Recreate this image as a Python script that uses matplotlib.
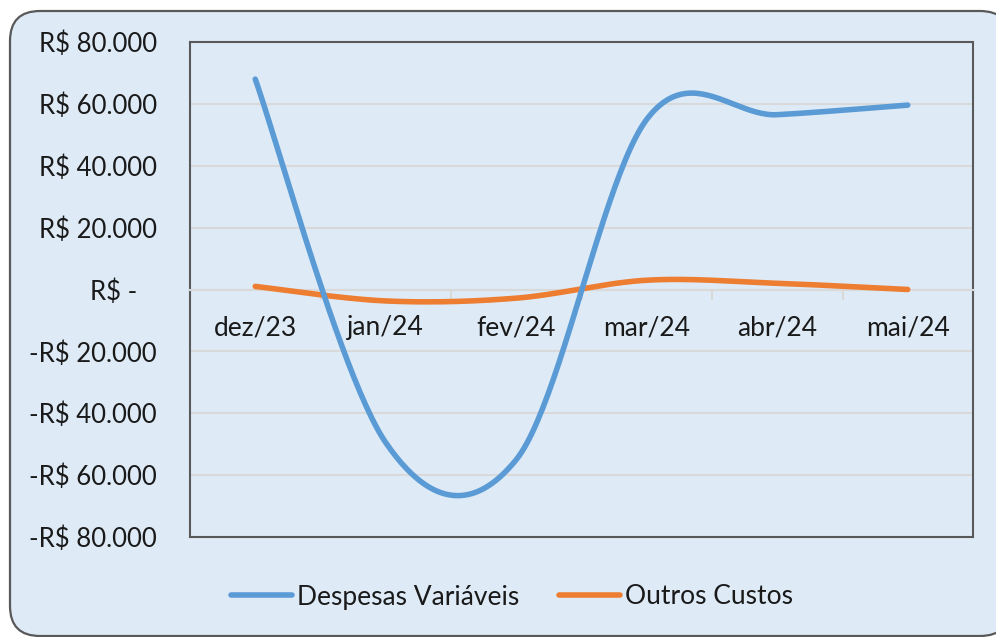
import numpy as np
import matplotlib
matplotlib.use('Agg')
import matplotlib.pyplot as plt
from matplotlib.patches import FancyBboxPatch

plt.rcParams['font.family'] = ['Lato', 'DejaVu Sans']

# dados
meses = ['dez/23', 'jan/24', 'fev/24', 'mar/24', 'abr/24', 'mai/24']
despesas_variaveis = [68000, -49500, -55000, 55000, 56500, 59600]
outros_custos = [1000, -3700, -2800, 3000, 2000, 0]

y_ticks = [-80000, -60000, -40000, -20000, 0, 20000, 40000, 60000, 80000]
y_labels = ['-R$ 80.000', '-R$ 60.000', '-R$ 40.000', '-R$ 20.000', 'R$ -   ',
            'R$ 20.000', 'R$ 40.000', 'R$ 60.000', 'R$ 80.000']

AZUL = '#5B9BD5'
LARANJA = '#ED7D31'
FUNDO = '#DEEBF7'
BORDA = '#595959'
GRADE = '#D9D9D9'
TEXTO = '#1a1a1a'


def suavizar(ys, n=50):
    # linha suavizada tipo Excel (Catmull-Rom em Bezier)
    ys = np.asarray(ys, dtype=float)
    xs = np.arange(len(ys), dtype=float)
    px = np.concatenate([[xs[0]], xs, [xs[-1]]])
    py = np.concatenate([[ys[0]], ys, [ys[-1]]])
    t = np.linspace(0, 1, n)
    ox, oy = [], []
    for i in range(len(ys) - 1):
        for p, out in ((px, ox), (py, oy)):
            p0, p1, p2, p3 = p[i], p[i + 1], p[i + 2], p[i + 3]
            c1 = p1 + (p2 - p0) / 6
            c2 = p2 - (p3 - p1) / 6
            b = (1 - t)**3 * p1 + 3 * (1 - t)**2 * t * c1 + 3 * (1 - t) * t**2 * c2 + t**3 * p2
            out.extend(b if i == 0 else b[1:])
    return np.array(ox), np.array(oy)


fig = plt.figure(figsize=(9.96, 6.37), dpi=100)

# moldura arredondada
bg = fig.add_axes([0, 0, 1, 1], zorder=0)
bg.set_xlim(0, 996)
bg.set_ylim(637, 0)
bg.axis('off')
bg.add_patch(FancyBboxPatch((10, 11), 1000, 625, boxstyle='round,pad=0,rounding_size=30',
                            facecolor=FUNDO, edgecolor=BORDA, linewidth=1.6))

ax = fig.add_axes([190 / 996, 100 / 637, 783 / 996, 495 / 637], zorder=1)
ax.set_facecolor('none')

x1, y1 = suavizar(outros_custos)
x2, y2 = suavizar(despesas_variaveis)
ax.plot(x1, y1, color=LARANJA, lw=4.0, solid_capstyle='round', label='Outros Custos', zorder=3)
ax.plot(x2, y2, color=AZUL, lw=4.0, solid_capstyle='round', label='Despesas Variáveis', zorder=4)

ax.set_xlim(-0.5, 5.5)
ax.set_ylim(-80000, 80000)

ax.set_yticks(y_ticks, y_labels)
ax.tick_params(axis='y', length=0, pad=24, labelsize=18.5, labelcolor=TEXTO)
ax.grid(axis='y', color=GRADE, lw=1.5)
ax.set_axisbelow(True)

ax.set_xticks(range(len(meses)), meses)
ax.set_xticks([0.5, 1.5, 2.5, 3.5, 4.5], minor=True)
ax.tick_params(axis='x', which='major', length=0, pad=18.5, labelsize=19, labelcolor=TEXTO)
ax.tick_params(axis='x', which='minor', length=7, width=1.5, color=GRADE, direction='out')

for s in ['left', 'top', 'right']:
    ax.spines[s].set_color(BORDA)
    ax.spines[s].set_linewidth(1.5)
ax.spines['bottom'].set_position(('data', 0))
ax.spines['bottom'].set_color(GRADE)
ax.spines['bottom'].set_linewidth(1.5)
ax.axhline(-80000, color=BORDA, lw=1.5, clip_on=False, zorder=5)

h, l = ax.get_legend_handles_labels()
fig.legend([h[1], h[0]], [l[1], l[0]], loc='center', bbox_to_anchor=(512 / 996, 40 / 637),
           ncol=2, frameon=False, fontsize=19, handlelength=2.3, handletextpad=0.2,
           columnspacing=1.5, labelcolor=TEXTO)

plt.savefig('out.png', dpi=100)
